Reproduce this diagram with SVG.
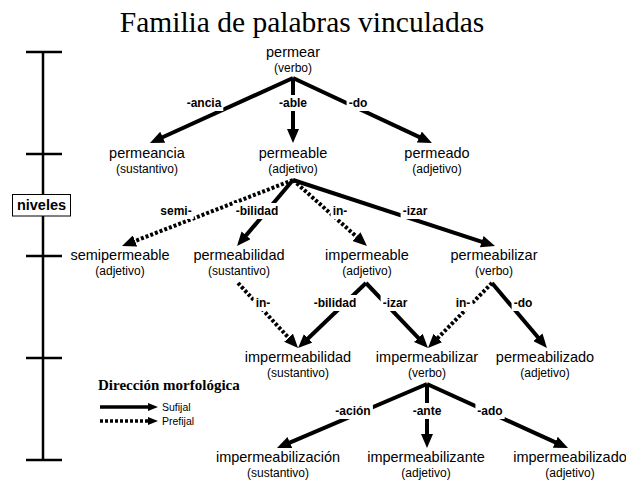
<svg xmlns="http://www.w3.org/2000/svg" width="626" height="481" viewBox="0 0 626 481">
<style>
.w{font-family:"Liberation Sans",Arial,sans-serif;font-size:14.5px;text-anchor:middle;fill:#000}
.c{font-family:"Liberation Sans",Arial,sans-serif;font-size:12px;text-anchor:middle;fill:#000}
.lb{font-family:"Liberation Sans",Arial,sans-serif;font-size:12px;font-weight:bold;text-anchor:middle;fill:#000}
.bg{fill:#fff;stroke:none}
.ln{fill:none;stroke:#000;stroke-width:4;marker-end:url(#ah)}
.dt{stroke-dasharray:3 2}
.ax{stroke:#000;stroke-width:2.5;fill:none}
.lg{fill:none;stroke:#000;stroke-width:3.5;marker-end:url(#ahs)}
.lt{font-family:"Liberation Sans",Arial,sans-serif;font-size:10.5px;fill:#000}
</style>
<defs>
<marker id="ah" markerUnits="userSpaceOnUse" markerWidth="14" markerHeight="12" viewBox="0 0 14 12" refX="2" refY="6" orient="auto"><path d="M0,0 L14,6 L0,12 Z" fill="#000"/></marker>
<marker id="ahs" markerUnits="userSpaceOnUse" markerWidth="10" markerHeight="8" viewBox="0 0 10 8" refX="1" refY="4" orient="auto"><path d="M0,0 L10,4 L0,8 Z" fill="#000"/></marker>
</defs>
<rect width="626" height="481" fill="#fff"/>
<text x="302" y="32" style="font-family:'Liberation Serif','Times New Roman',serif;font-size:29.5px;text-anchor:middle">Familia de palabras vinculadas</text>

<g id="axis">
<path class="ax" d="M43,52 V460 M26,52 H62 M26,154 H62 M26,256 H62 M26,358 H62 M26,460 H62"/>
<rect x="12.5" y="194.5" width="58" height="21.5" fill="#fff" stroke="#000" stroke-width="1"/>
<text x="41.5" y="210" style="font-family:'Liberation Sans',Arial,sans-serif;font-size:14.5px;font-weight:bold;text-anchor:middle">niveles</text>
</g>

<g id="connectors">
<path class="ln" d="M293,78 L160.9,138"/>
<path class="ln" d="M293,78 L293,131"/>
<path class="ln" d="M293,78 L421.1,137.9"/>
<path class="ln dt" d="M293,180 L133.2,241.7"/>
<path class="ln" d="M293,180 L244.8,236.9"/>
<path class="ln dt" d="M293,180 L358,238"/>
<path class="ln" d="M293,180 L483.6,242.3"/>
<path class="ln dt" d="M238,283 L289.9,339.2"/>
<path class="ln" d="M366,283 L306.7,339.7"/>
<path class="ln" d="M366,283 L419.7,339.3"/>
<path class="ln dt" d="M492,283 L436.4,339.4"/>
<path class="ln" d="M492,283 L539.2,338.8"/>
<path class="ln" d="M427,384 L288,443.3"/>
<path class="ln" d="M427,384 L427,436"/>
<path class="ln" d="M427,384 L557.1,443.1"/>
<g id="labels">
<rect class="bg" x="184.6" y="95" width="38.7" height="16"/><text class="lb" x="204" y="107">-ancia</text>
<rect class="bg" x="277" y="95" width="32" height="16"/><text class="lb" x="293" y="107">-able</text>
<rect class="bg" x="346.6" y="95" width="22.7" height="16"/><text class="lb" x="358" y="107">-do</text>
<rect class="bg" x="158.4" y="203" width="35.3" height="16"/><text class="lb" x="176" y="215">semi-</text>
<rect class="bg" x="233.6" y="203" width="46.7" height="16"/><text class="lb" x="257" y="215">-bilidad</text>
<rect class="bg" x="330.6" y="203" width="18.7" height="16"/><text class="lb" x="340" y="215">in-</text>
<rect class="bg" x="400.6" y="203" width="28.7" height="16"/><text class="lb" x="415" y="215">-izar</text>
<rect class="bg" x="253.6" y="295" width="18.7" height="16"/><text class="lb" x="263" y="307">in-</text>
<rect class="bg" x="311.6" y="295" width="46.7" height="16"/><text class="lb" x="335" y="307">-bilidad</text>
<rect class="bg" x="380.6" y="295" width="28.7" height="16"/><text class="lb" x="395" y="307">-izar</text>
<rect class="bg" x="453.6" y="295" width="18.7" height="16"/><text class="lb" x="463" y="307">in-</text>
<rect class="bg" x="511.6" y="295" width="22.7" height="16"/><text class="lb" x="523" y="307">-do</text>
<rect class="bg" x="333.6" y="403" width="39.3" height="16"/><text class="lb" x="353" y="415">-ación</text>
<rect class="bg" x="410.6" y="403" width="32.7" height="16"/><text class="lb" x="427" y="415">-ante</text>
<rect class="bg" x="475.4" y="403" width="29.3" height="16"/><text class="lb" x="490" y="415">-ado</text>
</g>
</g>

<g id="n-permear"><text class="w" x="293" y="57">permear</text><text class="c" x="293" y="72">(verbo)</text></g>
<g id="n-permeancia"><text class="w" x="147" y="158">permeancia</text><text class="c" x="147" y="173">(sustantivo)</text></g>
<g id="n-permeable"><text class="w" x="293" y="158">permeable</text><text class="c" x="293" y="173">(adjetivo)</text></g>
<g id="n-permeado"><text class="w" x="437" y="158">permeado</text><text class="c" x="437" y="173">(adjetivo)</text></g>
<g id="n-semipermeable"><text class="w" x="120" y="260">semipermeable</text><text class="c" x="120" y="275">(adjetivo)</text></g>
<g id="n-permeabilidad"><text class="w" x="239" y="260">permeabilidad</text><text class="c" x="239" y="275">(sustantivo)</text></g>
<g id="n-impermeable"><text class="w" x="367" y="260">impermeable</text><text class="c" x="367" y="275">(adjetivo)</text></g>
<g id="n-permeabilizar"><text class="w" x="494" y="260">permeabilizar</text><text class="c" x="494" y="275">(verbo)</text></g>
<g id="n-impermeabilidad"><text class="w" x="298" y="362">impermeabilidad</text><text class="c" x="298" y="377">(sustantivo)</text></g>
<g id="n-impermeabilizar"><text class="w" x="427" y="362">impermeabilizar</text><text class="c" x="427" y="377">(verbo)</text></g>
<g id="n-permeabilizado"><text class="w" x="545" y="362">permeabilizado</text><text class="c" x="545" y="377">(adjetivo)</text></g>
<g id="n-impermeabilizacion"><text class="w" x="278" y="462">impermeabilización</text><text class="c" x="278" y="477">(sustantivo)</text></g>
<g id="n-impermeabilizante"><text class="w" x="426" y="462">impermeabilizante</text><text class="c" x="426" y="477">(adjetivo)</text></g>
<g id="n-impermeabilizado"><text class="w" x="570" y="462">impermeabilizado</text><text class="c" x="570" y="477">(adjetivo)</text></g>

<g id="legend">
<text x="98" y="390" style="font-family:'Liberation Serif','Times New Roman',serif;font-size:15px;font-weight:bold">Dirección morfológica</text>
<path class="lg" d="M100,407 H149"/>
<text class="lt" x="162" y="411">Sufijal</text>
<path class="lg dt" d="M100,421 H149"/>
<text class="lt" x="162" y="425">Prefijal</text>
</g>
</svg>
